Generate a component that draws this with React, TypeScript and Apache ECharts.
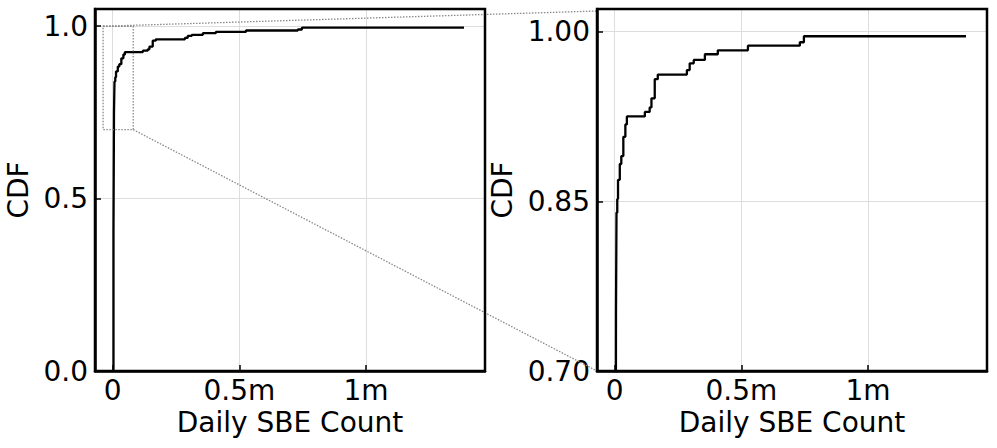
import React, { useEffect, useRef } from "react";
import * as echarts from "echarts";

// Daily SBE count in millions, CDF level reached from that count on
const sbeCountM = [
  0.0, 0.003, 0.005, 0.007, 0.010, 0.013, 0.020, 0.026, 0.034, 0.042, 0.048,
  0.119, 0.138, 0.145, 0.158, 0.170, 0.285, 0.296, 0.312, 0.356, 0.407,
  0.526, 0.731, 0.747, 1.387,
];
const cdfValues = [
  0.004, 0.40, 0.75, 0.84, 0.852, 0.869, 0.883, 0.890, 0.907, 0.918, 0.925,
  0.929, 0.933, 0.941, 0.958, 0.962, 0.966, 0.972, 0.975, 0.980, 0.9835,
  0.9876, 0.9906, 0.9959, 0.9959,
];

const xTickValues = [0, 0.5, 1];
const xTickLabels = ["0", "0.5m", "1m"];
const leftYTicks = [0, 0.5, 1.0];
const leftYLabels = ["0.0", "0.5", "1.0"];
const rightYTicks = [0.7, 0.85, 1.0];
const rightYLabels = ["0.70", "0.85", "1.00"];

// axis ranges
const xRange = [-0.07, 1.47];
const leftYRange = [0, 1.05];
const rightYRange = [0.7, 1.02];

// zoom window marked on the left panel
const zoomX = [-0.038, 0.081];
const zoomY = [0.7, 1.0];

const FONT = "DejaVu Sans";
const FS = 28;

function labelFrom(ticks: number[], labels: string[]) {
  return (v: number) => {
    for (let i = 0; i < ticks.length; i++) {
      if (Math.abs(v - ticks[i]) < 1e-6) return labels[i];
    }
    return "";
  };
}

export default function App() {
  const ref = useRef<HTMLDivElement>(null);
  useEffect(() => {
    if (!ref.current) return;
    const chart = echarts.init(ref.current, null, { renderer: "svg" });
    const data = sbeCountM.map((x, i) => [x, cdfValues[i]]);
    const gridLine = { show: true, lineStyle: { color: "#dddddd", width: 1 } };
    const axisLine = { show: true, onZero: false, lineStyle: { color: "#000", width: 2.5 } };
    const axisTick = { show: true, inside: true, length: 6, lineStyle: { color: "#000", width: 1.5 } };
    const textStyle = { fontFamily: FONT, fontSize: FS, color: "#000" };
    const xAxisBase = (gridIndex: number) => ({
      type: "value",
      gridIndex,
      min: xRange[0],
      max: xRange[1],
      minInterval: 0.5,
      maxInterval: 0.5,
      splitNumber: 3,
      name: "Daily SBE Count",
      nameLocation: "middle",
      nameGap: 34,
      nameTextStyle: textStyle,
      axisLine,
      axisTick,
      splitLine: gridLine,
      axisLabel: {
        ...textStyle,
        margin: 5,
        showMinLabel: false,
        showMaxLabel: false,
        formatter: labelFrom(xTickValues, xTickLabels),
      },
    });
    const yAxisBase = (gridIndex: number, range: number[], interval: number, gap: number, ticks: number[], labels: string[]) => ({
      type: "value",
      gridIndex,
      min: range[0],
      max: range[1],
      interval,
      name: "CDF",
      nameLocation: "middle",
      nameGap: gap,
      nameTextStyle: textStyle,
      axisLine,
      axisTick,
      splitLine: gridLine,
      axisLabel: {
        ...textStyle,
        margin: 7,
        showMaxLabel: false,
        formatter: labelFrom(ticks, labels),
      },
    });
    const lineSeries = (idx: number) => ({
      type: "line",
      xAxisIndex: idx,
      yAxisIndex: idx,
      data,
      step: "end",
      showSymbol: false,
      symbol: "none",
      clip: true,
      lineStyle: { color: "#000", width: 2.3 },
      z: 5,
    });
    const option: any = {
      animation: false,
      grid: [
        { left: 95, top: 9, width: 390, height: 362 },
        { left: 597, top: 9, width: 390, height: 362 },
      ],
      xAxis: [xAxisBase(0), xAxisBase(1)],
      yAxis: [
        yAxisBase(0, leftYRange, 0.5, 63, leftYTicks, leftYLabels),
        yAxisBase(1, rightYRange, 0.15, 81, rightYTicks, rightYLabels),
      ],
      series: [lineSeries(0), lineSeries(1)],
    };
    chart.setOption(option);

    const p0 = (x: number, y: number) =>
      chart.convertToPixel({ xAxisIndex: 0, yAxisIndex: 0 }, [x, y]) as number[];
    const p1 = (x: number, y: number) =>
      chart.convertToPixel({ xAxisIndex: 1, yAxisIndex: 1 }, [x, y]) as number[];
    const tl = p0(zoomX[0], zoomY[1]);
    const br = p0(zoomX[1], zoomY[0]);
    const insetTL = p1(xRange[0], rightYRange[1]);
    const insetBL = p1(xRange[0], rightYRange[0]);
    const f0a = p0(xRange[0], leftYRange[1]);
    const f0b = p0(xRange[1], leftYRange[0]);
    const f1a = p1(xRange[0], rightYRange[1]);
    const f1b = p1(xRange[1], rightYRange[0]);
    const dotted = { stroke: "#888", lineWidth: 1.3, lineDash: [1.5, 1.5], fill: null };
    const frame = (a: number[], b: number[]) => ({
      type: "rect",
      z: 110,
      silent: true,
      shape: { x: a[0], y: a[1], width: b[0] - a[0], height: b[1] - a[1] },
      style: { stroke: "#000", lineWidth: 2.5, fill: "transparent" },
    });
    chart.setOption({
      graphic: [
        { type: "rect", z: 100, shape: { x: tl[0], y: tl[1], width: br[0] - tl[0], height: br[1] - tl[1] }, style: { ...dotted, fill: "transparent" }, silent: true },
        { type: "line", z: 100, shape: { x1: tl[0], y1: tl[1], x2: insetTL[0], y2: insetTL[1] + 2 }, style: dotted, silent: true },
        { type: "line", z: 100, shape: { x1: br[0], y1: br[1], x2: insetBL[0], y2: insetBL[1] }, style: dotted, silent: true },
        frame(f0a, f0b),
        frame(f1a, f1b),
      ],
    });
    return () => chart.dispose();
  }, []);
  return (
    <div
      ref={ref}
      style={{ position: "fixed", left: 0, top: 0, width: 997, height: 448, background: "#fff" }}
    />
  );
}
